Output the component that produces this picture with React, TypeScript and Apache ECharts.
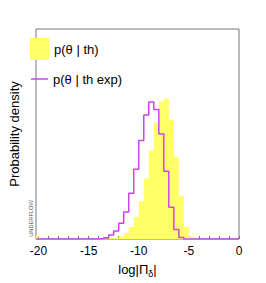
import React, { useEffect, useRef } from "react";
import * as echarts from "echarts";

// Tick labels on the x axis
const xTickLabels = [-20, -15, -10, -5, 0];
const xMinorTicks = [-20, -19, -18, -17, -16, -15, -14, -13, -12, -11, -10, -9, -8, -7, -6, -5, -4, -3, -2, -1, 0];

// Histogram: p(θ | th)  (bin left edges, width 0.5)
const thBinStarts = [-13.0, -12.5, -12.0, -11.5, -11.0, -10.5, -10.0, -9.5, -9.0, -8.5, -8.0, -7.5, -7.0, -6.5, -6.0, -5.5, -5.0, -4.5];
const thDensity = [0.0016, 0.003, 0.0056, 0.0135, 0.027, 0.0495, 0.0856, 0.137, 0.2, 0.2635, 0.311, 0.3176, 0.269, 0.1847, 0.0968, 0.027, 0.0056, 0.0011];

// Histogram: p(θ | th exp)
const thExpBinStarts = [-14.0, -13.5, -13.0, -12.5, -12.0, -11.5, -11.0, -10.5, -10.0, -9.5, -9.0, -8.5, -8.0, -7.5, -7.0, -6.5, -6.0];
const thExpDensity = [0.0011, 0.003, 0.009, 0.018, 0.0354, 0.0608, 0.1036, 0.1577, 0.223, 0.2804, 0.3097, 0.2928, 0.2376, 0.1532, 0.072, 0.0214, 0.0034];

// Underflow bin of p(θ | th)
const underflowStart = -20.5;
const underflowDensity = 0.008;

const BIN = 0.5;
const X_MIN = -20.25;
const X_MAX = 0;
const Y_MAX = 0.475;

const YELLOW = "#ffff66";
const PURPLE = "#cc44ee";
const FRAME = "#777777";
const FONT = "'Liberation Sans', Arial, Helvetica, sans-serif";

function stepPoints(starts: number[], vals: number[]) {
  const pts: number[][] = starts.map((x, i) => [x, vals[i]]);
  pts.push([starts[starts.length - 1] + BIN, 0]);
  return pts;
}

export default function App() {
  const ref = useRef<HTMLDivElement>(null);
  useEffect(() => {
    document.body.style.margin = "0";
    if (!ref.current) return;
    const chart = echarts.init(ref.current, undefined, { renderer: "svg" });

    const thPts = stepPoints(thBinStarts, thDensity);
    const thExpPts: number[][] = [[X_MIN, 0], ...stepPoints(thExpBinStarts, thExpDensity), [X_MAX, 0]];
    const underPts = [[underflowStart, underflowDensity], [underflowStart + BIN, 0]];

    chart.setOption({
      animation: false,
      textStyle: { fontFamily: FONT },
      grid: {
        left: 27,
        right: 27,
        top: 29,
        bottom: 43,
        show: true,
        borderColor: FRAME,
        borderWidth: 1,
        backgroundColor: "transparent",
      },
      legend: [
        {
          left: 30,
          top: 38,
          padding: 0,
          itemWidth: 19,
          itemHeight: 22,
          textStyle: { fontSize: 13, color: "#000", fontFamily: FONT },
          data: [{ name: "p(θ | th)", icon: "rect", itemStyle: { color: YELLOW } }],
        },
        {
          left: 31,
          top: 72.5,
          padding: 0,
          itemWidth: 17,
          itemHeight: 1.5,
          textStyle: { fontSize: 13, color: "#000", fontFamily: FONT },
          data: [{ name: "p(θ | th exp)", icon: "rect", itemStyle: { color: PURPLE } }],
        },
      ],
      xAxis: {
        type: "value",
        min: X_MIN,
        max: X_MAX,
        name: "{a|log|Π}{b|δ}{a||}",
        nameLocation: "middle",
        nameGap: 24,
        nameTextStyle: {
          rich: {
            a: { fontSize: 13, lineHeight: 14, verticalAlign: "top", color: "#000", fontFamily: FONT },
            b: { fontSize: 9, lineHeight: 10, verticalAlign: "top", padding: [6, 0, 0, 0], color: "#000", fontFamily: FONT },
          },
        },
        axisLine: { show: false },
        splitLine: { show: false },
        axisTick: {
          show: true,
          inside: true,
          length: 3,
          customValues: xMinorTicks,
          lineStyle: { color: FRAME, width: 1 },
        },
        axisLabel: {
          show: true,
          customValues: xTickLabels,
          fontSize: 12,
          color: "#000",
          margin: 6,
          fontFamily: FONT,
        },
      },
      yAxis: {
        type: "value",
        min: 0,
        max: Y_MAX,
        name: "Probability density",
        nameLocation: "middle",
        nameRotate: 90,
        nameGap: 15,
        nameTextStyle: { fontSize: 13, color: "#000", fontFamily: FONT },
        axisLine: { show: false },
        axisTick: { show: false },
        axisLabel: { show: false },
        splitLine: { show: false },
      },
      graphic: [
        {
          type: "text",
          x: 30.5,
          y: 218.5,
          rotation: Math.PI / 2,
          style: {
            text: "UNDERFLOW",
            fontSize: 5.7,
            fill: "#555",
            fontFamily: FONT,
            align: "center",
            verticalAlign: "middle",
          },
          z: 10,
        },
      ],
      series: [
        {
          name: "p(θ | th)",
          type: "line",
          step: "end",
          data: thPts,
          symbol: "none",
          lineStyle: { width: 0, color: YELLOW },
          itemStyle: { color: YELLOW },
          areaStyle: { color: YELLOW, opacity: 1 },
          z: 2,
        },
        {
          name: "p(θ | th) underflow",
          type: "line",
          step: "end",
          data: underPts,
          symbol: "none",
          clip: true,
          lineStyle: { width: 0, color: YELLOW },
          areaStyle: { color: YELLOW, opacity: 1 },
          z: 2,
        },
        {
          name: "p(θ | th exp)",
          type: "line",
          step: "end",
          data: thExpPts,
          symbol: "none",
          lineStyle: { width: 1.5, color: PURPLE },
          itemStyle: { color: PURPLE },
          z: 3,
        },
      ],
    });
    return () => chart.dispose();
  }, []);
  return <div ref={ref} style={{ width: 266, height: 283 }} />;
}
